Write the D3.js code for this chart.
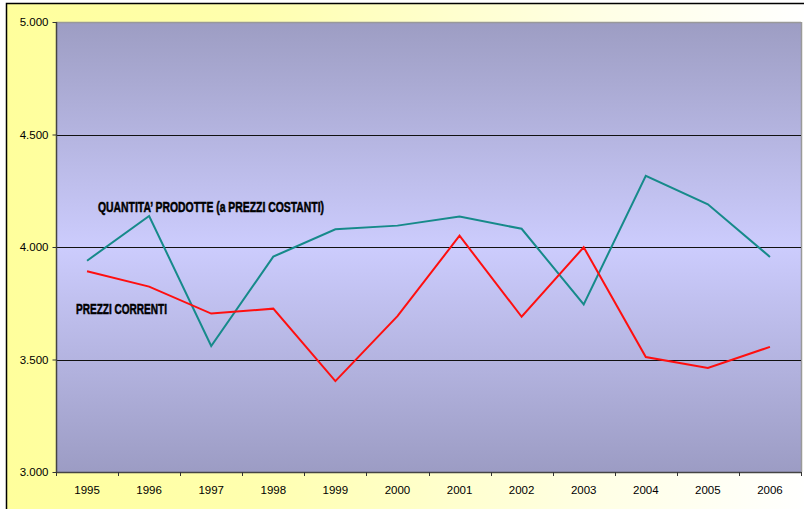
<!DOCTYPE html>
<html><head><meta charset="utf-8">
<script src="https://cdn.jsdelivr.net/npm/d3@7"></script>
<style>html,body{margin:0;padding:0;background:#fff;}svg{display:block;}</style>
</head><body>
<script>
const years = ["1995","1996","1997","1998","1999","2000","2001","2002","2003","2004","2005","2006"];
const quantita = [3.939,4.138,3.560,3.957,4.079,4.095,4.135,4.081,3.745,4.316,4.190,3.956];
const prezzi = [3.892,3.824,3.704,3.726,3.404,3.693,4.050,3.690,3.999,3.511,3.462,3.556];
const yTicks = [3.0,3.5,4.0,4.5,5.0];
const labelQ = "QUANTITA\u2019 PRODOTTE (a PREZZI COSTANTI)";
const labelP = "PREZZI CORRENTI";

const W=804,H=509;
const svg=d3.select("body").append("svg").attr("width",W).attr("height",H);
const defs=svg.append("defs");
const bg=defs.append("linearGradient").attr("id","bg").attr("x1",0).attr("x2",1).attr("y1",0).attr("y2",0);
[[0,"#FFFF9C"],[0.3,"#FFFFAE"],[0.75,"#FFFFE6"],[1,"#FFFFFF"]].forEach(s=>bg.append("stop").attr("offset",s[0]).attr("stop-color",s[1]));
const pg=defs.append("linearGradient").attr("id","pg").attr("x1",0).attr("x2",0).attr("y1",0).attr("y2",1);
[[0,"#9D9DC3"],[0.5,"#CCCCFD"],[1,"#9C9CC4"]].forEach(s=>pg.append("stop").attr("offset",s[0]).attr("stop-color",s[1]));

svg.append("rect").attr("x",6.5).attr("y",3.5).attr("width",W).attr("height",H).attr("fill","url(#bg)").attr("stroke","#000").attr("stroke-width",1.5);

const L=56,R=801,T=22,B=472;
const x=d3.scaleBand().domain(years).range([L,R]);
const y=d3.scaleLinear().domain([3,5]).range([B,T]);

svg.append("rect").attr("x",L).attr("y",T).attr("width",R-L).attr("height",B-T).attr("fill","url(#pg)");
svg.append("line").attr("x1",L).attr("x2",R).attr("y1",T+0.5).attr("y2",T+0.5).attr("stroke","#999").attr("stroke-width",1.5);
svg.append("line").attr("x1",R+0.5).attr("x2",R+0.5).attr("y1",T).attr("y2",B).attr("stroke","#999").attr("stroke-width",1.5);

svg.append("g").selectAll("line").data(yTicks.filter(d=>d>3&&d<5)).join("line")
  .attr("x1",L).attr("x2",R).attr("y1",d=>Math.round(y(d))+0.5).attr("y2",d=>Math.round(y(d))+0.5)
  .attr("stroke","#111").attr("stroke-width",1);

const yAxis=svg.append("g").attr("transform",`translate(${L+0.5},0)`)
  .call(d3.axisLeft(y).tickValues(yTicks).tickSize(4).tickPadding(4).tickFormat(d=>d3.format(".3f")(d)));
const xAxis=svg.append("g").attr("transform",`translate(0,${B+0.5})`)
  .call(d3.axisBottom(x).tickSize(0).tickPadding(13));
const bounds=years.map(d=>x(d)).concat([R]);
svg.append("g").selectAll("line").data(bounds).join("line")
  .attr("x1",d=>Math.round(d)+0.5).attr("x2",d=>Math.round(d)+0.5).attr("y1",B).attr("y2",B+4)
  .attr("stroke","#333").attr("stroke-width",1);
[yAxis,xAxis].forEach(g=>{
  g.select(".domain").attr("stroke","#444").attr("stroke-width",1.5);
  g.selectAll(".tick line").attr("stroke","#333");
  g.selectAll("text").attr("font-family","Liberation Sans, Arial, sans-serif").attr("font-size","11.5px").attr("fill","#000");
});
yAxis.select(".domain").attr("d",`M0,${T}V${B}`);
xAxis.select(".domain").attr("d",`M${L},0H${R}`);

const line=d3.line().x((d,i)=>x(years[i])+x.bandwidth()/2).y(d=>y(d));
svg.append("path").datum(quantita).attr("d",line).attr("fill","none").attr("stroke","#168A8A").attr("stroke-width",2);
svg.append("path").datum(prezzi).attr("d",line).attr("fill","none").attr("stroke","#FF0F0F").attr("stroke-width",2);

svg.append("text").attr("x",98).attr("y",212).text(labelQ)
  .attr("font-family","Liberation Sans Narrow, Arial Narrow, Liberation Sans, sans-serif").attr("font-weight","bold").attr("font-size","14.5px")
  .attr("textLength",226).attr("lengthAdjust","spacingAndGlyphs").attr("fill","#000").attr("stroke","#000").attr("stroke-width",0.5);
svg.append("text").attr("x",76).attr("y",313.5).text(labelP)
  .attr("font-family","Liberation Sans Narrow, Arial Narrow, Liberation Sans, sans-serif").attr("font-weight","bold").attr("font-size","15px")
  .attr("textLength",91).attr("lengthAdjust","spacingAndGlyphs").attr("fill","#000").attr("stroke","#000").attr("stroke-width",0.5);
</script>
</body></html>
